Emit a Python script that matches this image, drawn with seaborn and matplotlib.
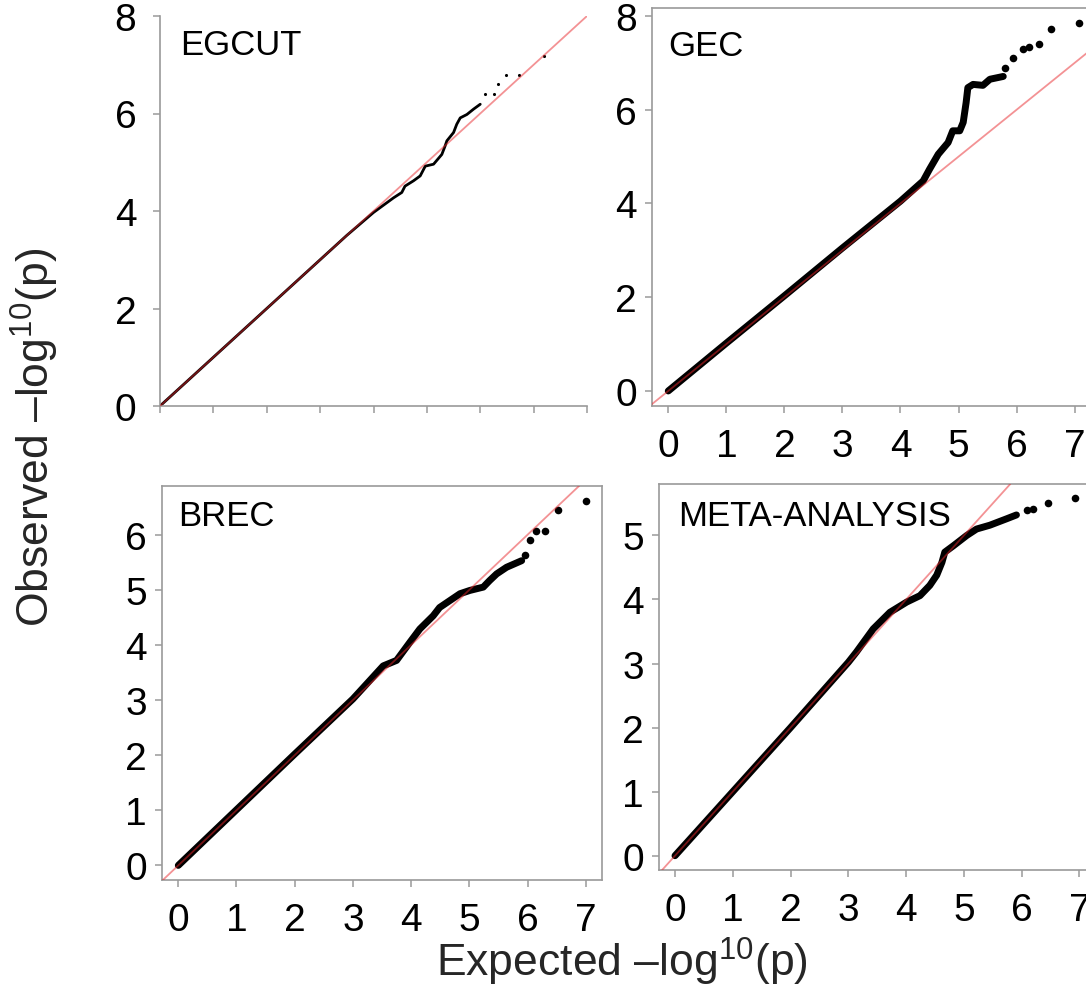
import matplotlib
matplotlib.use("Agg")
import matplotlib.pyplot as plt
import numpy as np
import pandas as pd
import seaborn as sns

# ---------------- data ----------------
panel_names = ["EGCUT", "GEC", "BREC", "META-ANALYSIS"]

egcut_bulk_x = [0, 1, 2, 3, 3.5, 4.0, 4.2, 4.375, 4.53, 4.59, 4.75, 4.875, 4.97, 5.125, 5.28, 5.34, 5.375, 5.5, 5.56, 5.625, 5.75, 5.875, 6.0]
egcut_bulk_y = [0, 1, 2, 3, 3.5, 3.97, 4.13, 4.27, 4.38, 4.51, 4.62, 4.72, 4.92, 4.96, 5.16, 5.33, 5.44, 5.61, 5.78, 5.91, 5.98, 6.09, 6.19]
egcut_tail_x = [6.09, 6.25, 6.34, 6.49, 6.72, 7.19]
egcut_tail_y = [6.39, 6.41, 6.6, 6.78, 6.78, 7.18]

gec_bulk_x = [0, 1, 2, 3, 3.5, 4.0, 4.39, 4.5, 4.65, 4.82, 4.9, 5.02, 5.08, 5.13, 5.16, 5.25, 5.42, 5.54, 5.77]
gec_bulk_y = [0, 1.02, 2.03, 3.05, 3.55, 4.05, 4.48, 4.73, 5.05, 5.3, 5.55, 5.55, 5.73, 6.15, 6.47, 6.54, 6.52, 6.65, 6.71]
gec_tail_x = [5.8, 5.94, 6.11, 6.22, 6.39, 6.6, 7.07]
gec_tail_y = [6.9, 7.11, 7.29, 7.33, 7.4, 7.73, 7.85]

brec_bulk_x = [0, 1, 2, 3, 3.52, 3.75, 3.98, 4.15, 4.38, 4.49, 4.84, 5.01, 5.24, 5.35, 5.47, 5.64, 5.9]
brec_bulk_y = [0, 1.01, 2.02, 3.02, 3.62, 3.72, 4.05, 4.29, 4.53, 4.68, 4.93, 4.99, 5.05, 5.17, 5.29, 5.41, 5.53]
brec_tail_x = [5.95, 6.04, 6.15, 6.3, 6.53, 7.0]
brec_tail_y = [5.64, 5.9, 6.06, 6.06, 6.45, 6.62]

meta_bulk_x = [0, 1, 2, 3, 3.14, 3.43, 3.72, 4.01, 4.24, 4.41, 4.53, 4.62, 4.67, 4.82, 5.05, 5.22, 5.45, 5.74, 5.91]
meta_bulk_y = [0, 1.0, 2.0, 3.02, 3.18, 3.54, 3.8, 3.96, 4.06, 4.22, 4.38, 4.58, 4.74, 4.84, 5.0, 5.1, 5.16, 5.26, 5.32]
meta_tail_x = [6.09, 6.2, 6.45, 6.92]
meta_tail_y = [5.39, 5.42, 5.5, 5.58]

x_ticks_egcut = [0, 1, 2, 3, 4, 5, 6, 7, 8]
y_ticks_egcut = [0, 2, 4, 6, 8]
x_ticks_std = [0, 1, 2, 3, 4, 5, 6, 7]
y_ticks_gec = [0, 2, 4, 6, 8]
y_ticks_brec = [0, 1, 2, 3, 4, 5, 6]
y_ticks_meta = [0, 1, 2, 3, 4, 5]

x_label = "Expected \u2013log$^{10}$(p)"
y_label = "Observed \u2013log$^{10}$(p)"

# ---------------- style ----------------
sns.set_theme(style="white")
plt.rcParams["font.family"] = ["Liberation Sans", "DejaVu Sans"]
plt.rcParams["mathtext.fontset"] = "custom"
plt.rcParams["mathtext.rm"] = "Liberation Sans"
plt.rcParams["mathtext.it"] = "Liberation Sans:italic"
plt.rcParams["mathtext.bf"] = "Liberation Sans:bold"

W, H = 1086, 987
fig = plt.figure(figsize=(W / 100, H / 100), dpi=100)
fig.patch.set_facecolor("white")

GRAY = "#9a9a9a"
RED = "#e8262b"
TICK_FS = 28
LABEL_FS = 25
AXLABEL_FS = 32


def add_ax(l, t, r, b):
    return fig.add_axes([l / W, 1 - b / H, (r - l) / W, (b - t) / H])


def style_ax(ax, boxed):
    for side, sp in ax.spines.items():
        sp.set_color(GRAY)
        sp.set_linewidth(1.2)
        if not boxed and side in ("top", "right"):
            sp.set_visible(False)
    ax.tick_params(direction="out", length=5, width=1.1, color=GRAY,
                   labelcolor="black", labelsize=TICK_FS, pad=6,
                   bottom=True, left=True, top=False, right=False)
    ax.set_facecolor("white")
    ax.set_xlabel("")
    ax.set_ylabel("")


def draw(ax, bx, by, tx, ty, lw, ms):
    bulk = pd.DataFrame({"x": bx, "y": by})
    tail = pd.DataFrame({"x": tx, "y": ty})
    sns.lineplot(data=bulk, x="x", y="y", ax=ax, color="black", linewidth=lw,
                 sort=False, estimator=None, solid_capstyle="round", zorder=2)
    sns.scatterplot(data=tail, x="x", y="y", ax=ax, color="black", s=ms,
                    linewidth=0, zorder=2)
    ax.axline((0, 0), slope=1, color=RED, alpha=0.5, linewidth=1.3, zorder=3)


# EGCUT (no box, axes from 0 to 8)
ax1 = add_ax(160, 17, 587, 407)
draw(ax1, egcut_bulk_x, egcut_bulk_y, egcut_tail_x, egcut_tail_y, 2.0, 5)
ax1.set_xlim(0, 8)
ax1.set_ylim(0, 8)
ax1.set_xticks(x_ticks_egcut)
ax1.set_xticklabels([])
ax1.set_yticks(y_ticks_egcut)
style_ax(ax1, boxed=False)
ax1.tick_params(axis="y", pad=12)

# GEC
ax2 = add_ax(652, 9, 1095, 406.5)
draw(ax2, gec_bulk_x, gec_bulk_y, gec_tail_x, gec_tail_y, 5.0, 30)
ax2.set_xlim(-0.28, 7.35)
ax2.set_ylim(-0.31, 8.17)
ax2.set_xticks(x_ticks_std)
ax2.set_yticks(y_ticks_gec)
style_ax(ax2, boxed=True)

# BREC
ax3 = add_ax(162, 487, 602, 881)
draw(ax3, brec_bulk_x, brec_bulk_y, brec_tail_x, brec_tail_y, 5.0, 30)
ax3.set_xlim(-0.28, 7.28)
ax3.set_ylim(-0.265, 6.885)
ax3.set_xticks(x_ticks_std)
ax3.set_yticks(y_ticks_brec)
style_ax(ax3, boxed=True)

# META-ANALYSIS
ax4 = add_ax(659, 485, 1091, 871)
draw(ax4, meta_bulk_x, meta_bulk_y, meta_tail_x, meta_tail_y, 5.0, 30)
ax4.set_xlim(-0.277, 7.2)
ax4.set_ylim(-0.223, 5.803)
ax4.set_xticks(x_ticks_std)
ax4.set_yticks(y_ticks_meta)
style_ax(ax4, boxed=True)

for ax in (ax2, ax3, ax4):
    ax.tick_params(axis="x", pad=11)

# panel labels
label_pos = [(180, 55), (668, 56), (178, 526), (678, 526)]
for name, (px, py) in zip(panel_names, label_pos):
    fig.text(px / W, 1 - py / H, name, fontsize=LABEL_FS, color="black",
             ha="left", va="baseline")

# shared axis labels
fig.text(622 / W, 1 - 977 / H, x_label, fontsize=AXLABEL_FS, ha="center",
         va="baseline")
fig.text(50 / W, 1 - 437 / H, y_label, fontsize=AXLABEL_FS, ha="center",
         va="baseline", rotation=90, rotation_mode="anchor")

fig.savefig("out.png", dpi=100, facecolor="white")
